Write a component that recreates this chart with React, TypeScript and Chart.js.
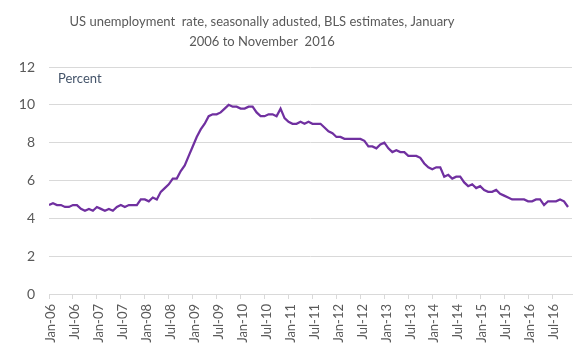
import React, { useEffect, useRef } from "react";
import { Chart, registerables } from "chart.js";

Chart.register(...registerables);

const titleLines = [
  "US unemployment  rate, seasonally adusted, BLS estimates, January",
  "2006 to November  2016",
];
const yAxisLabel = "Percent";

const tickLabels = [
  "Jan-06", "Jul-06", "Jan-07", "Jul-07", "Jan-08", "Jul-08", "Jan-09", "Jul-09",
  "Jan-10", "Jul-10", "Jan-11", "Jul-11", "Jan-12", "Jul-12", "Jan-13", "Jul-13",
  "Jan-14", "Jul-14", "Jan-15", "Jul-15", "Jan-16", "Jul-16",
];

// Monthly unemployment rate, Jan 2006 .. Nov 2016
const rate2006 = [4.7, 4.8, 4.7, 4.7, 4.6, 4.6, 4.7, 4.7, 4.5, 4.4, 4.5, 4.4];
const rate2007 = [4.6, 4.5, 4.4, 4.5, 4.4, 4.6, 4.7, 4.6, 4.7, 4.7, 4.7, 5.0];
const rate2008 = [5.0, 4.9, 5.1, 5.0, 5.4, 5.6, 5.8, 6.1, 6.1, 6.5, 6.8, 7.3];
const rate2009 = [7.8, 8.3, 8.7, 9.0, 9.4, 9.5, 9.5, 9.6, 9.8, 10.0, 9.9, 9.9];
const rate2010 = [9.8, 9.8, 9.9, 9.9, 9.6, 9.4, 9.4, 9.5, 9.5, 9.4, 9.8, 9.3];
const rate2011 = [9.1, 9.0, 9.0, 9.1, 9.0, 9.1, 9.0, 9.0, 9.0, 8.8, 8.6, 8.5];
const rate2012 = [8.3, 8.3, 8.2, 8.2, 8.2, 8.2, 8.2, 8.1, 7.8, 7.8, 7.7, 7.9];
const rate2013 = [8.0, 7.7, 7.5, 7.6, 7.5, 7.5, 7.3, 7.3, 7.3, 7.2, 6.9, 6.7];
const rate2014 = [6.6, 6.7, 6.7, 6.2, 6.3, 6.1, 6.2, 6.2, 5.9, 5.7, 5.8, 5.6];
const rate2015 = [5.7, 5.5, 5.4, 5.4, 5.5, 5.3, 5.2, 5.1, 5.0, 5.0, 5.0, 5.0];
const rate2016 = [4.9, 4.9, 5.0, 5.0, 4.7, 4.9, 4.9, 4.9, 5.0, 4.9, 4.6];

const rates = [
  ...rate2006, ...rate2007, ...rate2008, ...rate2009, ...rate2010, ...rate2011,
  ...rate2012, ...rate2013, ...rate2014, ...rate2015, ...rate2016,
];

const FONT = "Lato, 'Open Sans', sans-serif";
const TEXT = "#595959";

const overlay = {
  id: "overlay",
  afterDraw(chart: any) {
    const ctx = chart.ctx;
    const xs = chart.scales.x;
    const area = chart.chartArea;
    ctx.save();
    // title
    ctx.fillStyle = TEXT;
    ctx.font = `13px ${FONT}`;
    ctx.textAlign = "center";
    ctx.textBaseline = "middle";
    ctx.fillText(titleLines[0], 262, 22);
    ctx.fillText(titleLines[1], 262, 42);
    // Percent label
    ctx.fillStyle = "#44546A";
    ctx.textAlign = "left";
    ctx.font = `13px ${FONT}`;
    ctx.fillText(yAxisLabel, 58, 79);
    // x tick labels rotated -90
    ctx.fillStyle = TEXT;
    ctx.font = `13px ${FONT}`;
    tickLabels.forEach((lab, i) => {
      const x = xs.getPixelForValue(i * 6);
      ctx.save();
      ctx.translate(x + 2, area.bottom + 10);
      ctx.rotate(-Math.PI / 2);
      ctx.textAlign = "right";
      ctx.textBaseline = "middle";
      ctx.fillText(lab, 0, 0);
      ctx.restore();
    });
    ctx.restore();
  },
};

export default function App() {
  const ref = useRef<HTMLCanvasElement | null>(null);
  useEffect(() => {
    if (!ref.current) return;
    const chart = new Chart(ref.current, {
      type: "line",
      data: {
        datasets: [
          {
            data: rates.map((v, i) => ({ x: i, y: v })),
            borderColor: "#7030A0",
            borderWidth: 2.25,
            pointRadius: 0,
            tension: 0,
            fill: false,
          },
        ],
      },
      options: {
        responsive: false,
        animation: false,
        layout: { padding: { left: 0, right: 14, top: 67, bottom: 56 } },
        plugins: { legend: { display: false }, tooltip: { enabled: false }, title: { display: false } },
        scales: {
          x: {
            type: "linear",
            min: 0,
            max: 131,
            afterBuildTicks: (s: any) => {
              s.ticks = tickLabels.map((_, i) => ({ value: i * 6 }));
            },
            ticks: { display: false },
            grid: { drawOnChartArea: false, drawTicks: true, tickLength: 5, color: "#d9d9d9" },
            border: { display: true, color: "#d9d9d9", width: 1 },
          },
          y: {
            min: 0,
            max: 12,
            afterFit: (s: any) => {
              s.width = 49;
            },
            ticks: { stepSize: 2, color: TEXT, font: { family: FONT, size: 14 }, padding: 14 },
            grid: { color: "#d9d9d9", drawTicks: false },
            border: { display: false },
          },
        },
      },
      plugins: [overlay],
    });
    return () => chart.destroy();
  }, []);
  return (
    <canvas
      ref={ref}
      width={586}
      height={355}
      style={{ position: "absolute", left: 0, top: 0, width: 586, height: 355 }}
    />
  );
}
